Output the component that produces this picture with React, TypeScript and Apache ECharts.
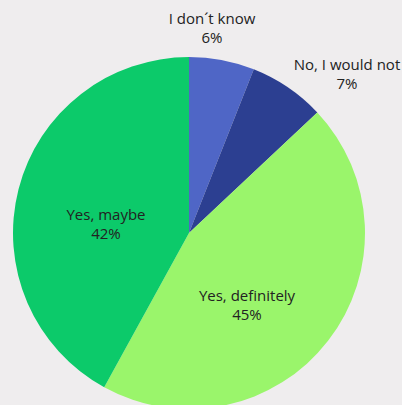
import React, { useEffect, useRef } from "react";
import * as echarts from "echarts";

const categories = ["I don´t know", "No, I would not", "Yes, definitely", "Yes, maybe"];
const values = [6, 7, 45, 42];
const colors = ["#4f66c6", "#2c3f91", "#9af56b", "#0cca6a"];
// label centre positions (px) for each slice's label
const labelCenters: [number, number][] = [
  [212, 27],
  [347, 73],
  [247, 304],
  [106, 223],
];

export default function App() {
  const ref = useRef<HTMLDivElement>(null);
  useEffect(() => {
    document.body.style.margin = "0";
    document.body.style.background = "#efedee";
    const chart = echarts.init(ref.current!, null, { renderer: "svg" });
    chart.setOption({
      animation: false,
      backgroundColor: "#efedee",
      series: [
        {
          type: "pie",
          center: [189, 233],
          radius: 176,
          startAngle: 90,
          clockwise: true,
          avoidLabelOverlap: false,
          itemStyle: { borderWidth: 0 },
          label: {
            show: true,
            position: "inside",
            formatter: (p: any) => `${p.name}\n${p.value}%`,
            color: "#222222",
            fontFamily: "Open Sans",
            fontSize: 15,
            lineHeight: 19,
            align: "center",
          },
          labelLine: { show: false },
          labelLayout: (params: any) => {
            const c = labelCenters[params.dataIndex];
            return { x: c[0], y: c[1], align: "center", verticalAlign: "middle" };
          },
          data: categories.map((name, i) => ({
            name,
            value: values[i],
            itemStyle: { color: colors[i] },
          })),
        },
      ],
    });
    return () => chart.dispose();
  }, []);
  return <div ref={ref} style={{ width: 402, height: 405 }} />;
}
